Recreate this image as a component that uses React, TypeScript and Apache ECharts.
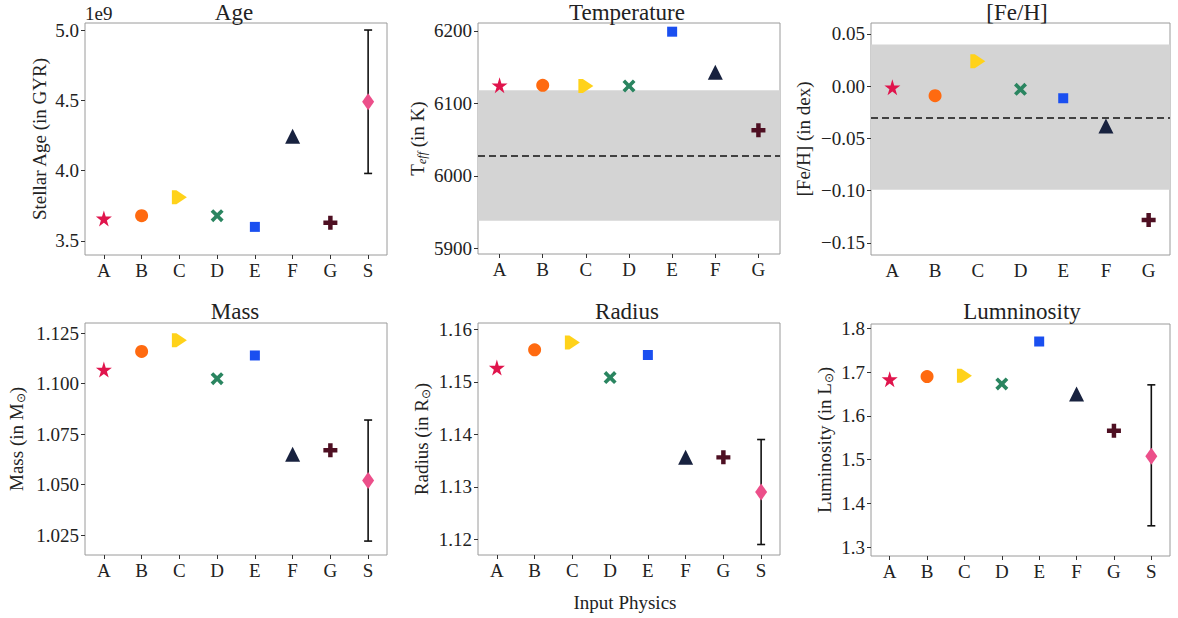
import React, { useEffect, useRef } from 'react';
import * as echarts from 'echarts';

// ---------- data ----------
const models7 = ['A', 'B', 'C', 'D', 'E', 'F', 'G'];
const models8 = ['A', 'B', 'C', 'D', 'E', 'F', 'G', 'S'];

const ageValues = [3.66e9, 3.68e9, 3.81e9, 3.68e9, 3.6e9, 4.245e9, 3.63e9, 4.49e9];
const ageError = [3.98e9, 5.0e9];
const ageTicks = [3.5e9, 4.0e9, 4.5e9, 5.0e9];

const tempValues = [6125, 6125, 6124, 6124, 6199, 6143, 6063];
const tempObserved = 6028;
const tempBand = [5938, 6118];
const tempTicks = [5900, 6000, 6100, 6200];

const fehValues = [-0.001, -0.009, 0.024, -0.003, -0.0115, -0.038, -0.128];
const fehObserved = -0.029;
const fehBand = [-0.099, 0.04];
const fehTicks = [-0.15, -0.1, -0.05, 0, 0.05];

const massValues = [1.107, 1.116, 1.1216, 1.1025, 1.114, 1.065, 1.067, 1.052];
const massError = [1.022, 1.082];
const massTicks = [1.025, 1.05, 1.075, 1.1, 1.125];

const radiusValues = [1.1527, 1.1561, 1.1575, 1.1508, 1.1551, 1.1356, 1.1356, 1.129];
const radiusError = [1.119, 1.139];
const radiusTicks = [1.12, 1.13, 1.14, 1.15, 1.16];

const lumValues = [1.684, 1.69, 1.692, 1.673, 1.77, 1.65, 1.566, 1.508];
const lumError = [1.349, 1.671];
const lumTicks = [1.3, 1.4, 1.5, 1.6, 1.7, 1.8];

// ---------- styles ----------
const STAR = 'path://M50,0 L61,35 L98,35 L68,57 L79,91 L50,70 L21,91 L32,57 L2,35 L39,35 Z';
const TRI_RIGHT = 'path://M0,0 L3,0 L10,5 L3,10 L0,10 Z';
const XMARK = 'path://M2,0 L5,3 L8,0 L10,2 L7,5 L10,8 L8,10 L5,7 L2,10 L0,8 L3,5 L0,2 Z';
const PLUS = 'path://M3.4,0 L6.6,0 L6.6,3.4 L10,3.4 L10,6.6 L6.6,6.6 L6.6,10 L3.4,10 L3.4,6.6 L0,6.6 L0,3.4 L3.4,3.4 Z';
const markerSymbols = [STAR, 'circle', TRI_RIGHT, XMARK, 'rect', 'triangle', PLUS, 'diamond'];
const markerSizes: any[] = [16, 13, [15, 14], 13, 10, 15, 14, [12, 17]];
const markerColors = ['#e0144c', '#ff6a10', '#ffd21a', '#2a8560', '#1a4ff0', '#18223f', '#4e0f22', '#ec4f8a'];

const FONT = '"Liberation Serif", "Times New Roman", serif';
const TEXT = '#222';
const TICK_FS = 19;
const NAME_FS = 19;
const TITLE_FS = 23;

const grids = [
  { left: 85, top: 23, width: 302, height: 232 },
  { left: 478, top: 23, width: 302, height: 231 },
  { left: 871, top: 23, width: 299, height: 232 },
  { left: 85, top: 323, width: 302, height: 232 },
  { left: 478, top: 323, width: 302, height: 232 },
  { left: 871, top: 324, width: 299, height: 232 },
];

const titles = [
  { text: 'Age', x: 234, y: 12 },
  { text: 'Temperature', x: 627, y: 12 },
  { text: '[Fe/H]', x: 1017, y: 12 },
  { text: 'Mass', x: 235, y: 311 },
  { text: 'Radius', x: 627, y: 311 },
  { text: 'Lumninosity', x: 1022, y: 311 },
];

const fmtFixed = (d: number) => (v: number) => {
  const s = Math.abs(v).toFixed(d);
  return v < -1e-12 ? '\u2212' + s : s;
};

const richName = {
  n: { fontFamily: FONT, fontSize: NAME_FS, color: TEXT },
  s: { fontFamily: FONT, fontSize: 12, color: TEXT, fontStyle: 'italic', padding: [9, 0, 0, 0] },
  o: { fontFamily: FONT, fontSize: 12, color: TEXT, padding: [9, 0, 0, 0] },
};

const panels = [
  {
    cats: models8, values: ageValues, err: ageError, ticks: ageTicks, min: 3.4e9, max: 5.05e9,
    fmt: (v: number) => (v / 1e9).toFixed(1), name: '{n|Stellar Age (in GYR)}', gap: 36,
  },
  {
    cats: models7, values: tempValues, ticks: tempTicks, min: 5892, max: 6211, band: tempBand, obs: tempObserved,
    fmt: (v: number) => String(Math.round(v)), name: '{n|T}{s|eff}{n| (in K)}', gap: 50,
  },
  {
    cats: models7, values: fehValues, ticks: fehTicks, min: -0.1615, max: 0.0605, band: fehBand, obs: fehObserved,
    fmt: fmtFixed(2), name: '{n|[Fe/H] (in dex)}', gap: 58,
  },
  {
    cats: models8, values: massValues, err: massError, ticks: massTicks, min: 1.0151, max: 1.1301,
    fmt: fmtFixed(3), name: '{n|Mass (in M}{o|\u2299}{n|)}', gap: 58,
  },
  {
    cats: models8, values: radiusValues, err: radiusError, ticks: radiusTicks, min: 1.117, max: 1.1612,
    fmt: fmtFixed(2), name: '{n|Radius (in R}{o|\u2299}{n|)}', gap: 46,
  },
  {
    cats: models8, values: lumValues, err: lumError, ticks: lumTicks, min: 1.28, max: 1.81,
    fmt: fmtFixed(1), name: '{n|Luminosity (in L}{o|\u2299}{n|)}', gap: 36,
  },
];

function buildOption() {
  const grid: any[] = [];
  const xAxis: any[] = [];
  const yAxis: any[] = [];
  const series: any[] = [];

  panels.forEach((p, k) => {
    grid.push({ ...grids[k], show: true, borderColor: '#9a9a9a', borderWidth: 1, backgroundColor: 'transparent' });
    xAxis.push({
      type: 'category', gridIndex: k, data: p.cats, boundaryGap: true,
      axisLine: { show: false },
      axisTick: { show: true, alignWithLabel: true, length: 4, inside: false, lineStyle: { color: '#333' } },
      axisLabel: { fontFamily: FONT, fontSize: TICK_FS, color: TEXT, margin: 6 },
      splitLine: { show: false },
    });
    yAxis.push({
      type: 'value', gridIndex: k, min: p.min, max: p.max,
      axisLine: { show: false },
      axisTick: { show: true, length: 4, customValues: p.ticks, lineStyle: { color: '#333' } },
      axisLabel: { fontFamily: FONT, fontSize: TICK_FS, color: TEXT, margin: 6, customValues: p.ticks, formatter: p.fmt },
      splitLine: { show: false },
      name: p.name, nameLocation: 'middle', nameGap: p.gap, nameRotate: 90,
      nameTextStyle: { rich: richName },
    });

    if (p.err) {
      const idx = p.cats.indexOf('S');
      series.push({
        type: 'custom', xAxisIndex: k, yAxisIndex: k, z: 2,
        encode: { x: 0, y: [1, 2] },
        data: [[idx, p.err[0], p.err[1]]],
        renderItem: (params: any, api: any) => {
          const lo = api.coord([api.value(0), api.value(1)]);
          const hi = api.coord([api.value(0), api.value(2)]);
          const cap = 4;
          const st = { stroke: '#111', lineWidth: 1.6 };
          return {
            type: 'group',
            children: [
              { type: 'line', shape: { x1: lo[0], y1: lo[1], x2: hi[0], y2: hi[1] }, style: st },
              { type: 'line', shape: { x1: lo[0] - cap, y1: lo[1], x2: lo[0] + cap, y2: lo[1] }, style: st },
              { type: 'line', shape: { x1: hi[0] - cap, y1: hi[1], x2: hi[0] + cap, y2: hi[1] }, style: st },
            ],
          };
        },
      });
    }

    const s: any = {
      type: 'scatter', xAxisIndex: k, yAxisIndex: k, z: 3,
      data: p.values.map((v, i) => ({
        value: [i, v],
        symbol: markerSymbols[i],
        symbolSize: markerSizes[i],
        itemStyle: { color: markerColors[i], opacity: 1 },
      })),
    };
    if (p.band) {
      s.markArea = {
        silent: true,
        itemStyle: { color: '#d4d4d4', opacity: 1 },
        data: [[{ yAxis: p.band[0] }, { yAxis: p.band[1] }]],
      };
      s.markLine = {
        silent: true, symbol: 'none', label: { show: false },
        lineStyle: { color: '#111', type: [7, 4], width: 1.6 },
        data: [{ yAxis: p.obs }],
      };
    }
    series.push(s);
  });

  return {
    animation: false,
    backgroundColor: '#ffffff',
    title: titles.map((t) => ({
      text: t.text, left: t.x, top: t.y, textAlign: 'center', textVerticalAlign: 'middle', padding: 0,
      textStyle: { fontFamily: FONT, fontSize: TITLE_FS, fontWeight: 'normal', color: TEXT },
    })),
    graphic: [
      { type: 'text', left: 85, top: 4, style: { text: '1e9', fontFamily: FONT, fontSize: 19, fill: TEXT } },
      {
        type: 'text', x: 625, y: 602,
        style: { text: 'Input Physics', fontFamily: FONT, fontSize: NAME_FS, fill: TEXT, align: 'center', verticalAlign: 'middle' },
      },
    ],
    grid, xAxis, yAxis, series,
  };
}

export default function App() {
  const ref = useRef<HTMLDivElement>(null);
  useEffect(() => {
    if (!ref.current) return;
    const chart = echarts.init(ref.current, undefined, { renderer: 'svg' });
    chart.setOption(buildOption() as any);
    return () => chart.dispose();
  }, []);
  return (
    <div
      ref={ref}
      style={{ position: 'absolute', left: 0, top: 0, width: 1178, height: 618, background: '#fff' }}
    />
  );
}
